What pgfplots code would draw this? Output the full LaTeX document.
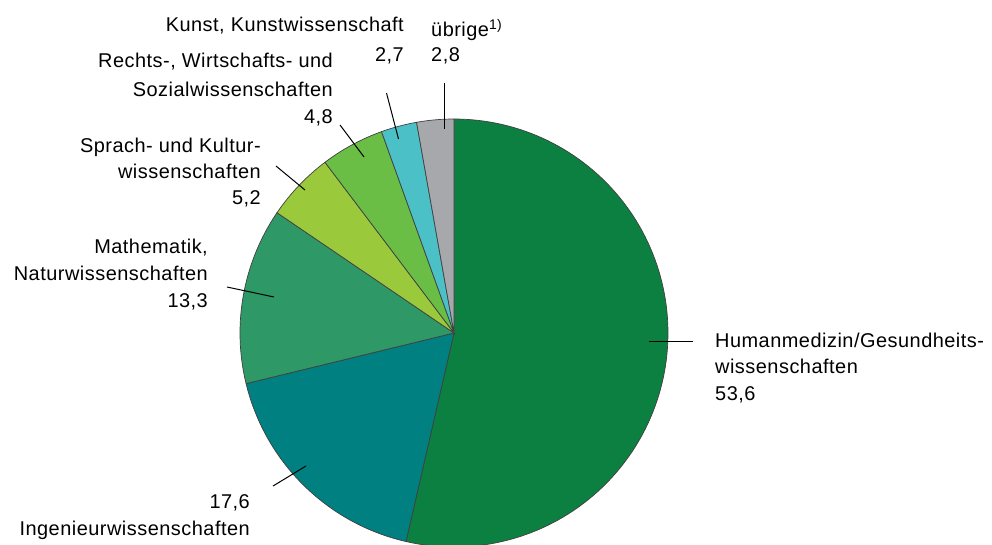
\documentclass[border=0pt]{standalone}
\usepackage{fontspec}
\setmainfont[LetterSpace=2.5]{Liberation Sans}
\usepackage{pgfplots}
\pgfplotsset{compat=1.18}

% shares in percent (clockwise from 12 o'clock)
\def\vHum{53.6}
\def\vIng{17.6}
\def\vMat{13.3}
\def\vSpr{5.2}
\def\vRec{4.8}
\def\vKun{2.7}
\def\vUbr{2.8}

\pgfmathsetmacro\aA{90}
\pgfmathsetmacro\aB{\aA-3.6*\vHum}
\pgfmathsetmacro\aC{\aB-3.6*\vIng}
\pgfmathsetmacro\aD{\aC-3.6*\vMat}
\pgfmathsetmacro\aE{\aD-3.6*\vSpr}
\pgfmathsetmacro\aF{\aE-3.6*\vRec}
\pgfmathsetmacro\aG{\aF-3.6*\vKun}
\pgfmathsetmacro\aH{\aG-3.6*\vUbr}

\definecolor{cHum}{HTML}{0C8040}
\definecolor{cIng}{HTML}{008080}
\definecolor{cMat}{HTML}{2E9966}
\definecolor{cSpr}{HTML}{9BC93C}
\definecolor{cRec}{HTML}{6ABD45}
\definecolor{cKun}{HTML}{4BC0C6}
\definecolor{cUbr}{HTML}{A6A8AB}

\newcommand\lbl{\fontsize{20}{24}\selectfont}

\begin{document}
\begin{tikzpicture}
\useasboundingbox (0,0) rectangle (992bp,545bp);
\begin{axis}[
  at={(0,0)}, anchor=south west,
  scale only axis, width=992bp, height=545bp,
  xmin=0, xmax=992, ymin=0, ymax=545, y dir=reverse,
  hide axis, clip=true,
  slice/.style={draw=black!75, line width=0.7bp, samples=120},
  leader/.style={black, line width=1bp, mark=none},
]
\addplot[slice, fill=cHum, domain=\aB:\aA] ({454+214*cos(x)},{333-214*sin(x)}) -- (axis cs:454,333) -- cycle;
\addplot[slice, fill=cIng, domain=\aC:\aB] ({454+214*cos(x)},{333-214*sin(x)}) -- (axis cs:454,333) -- cycle;
\addplot[slice, fill=cMat, domain=\aD:\aC] ({454+214*cos(x)},{333-214*sin(x)}) -- (axis cs:454,333) -- cycle;
\addplot[slice, fill=cSpr, domain=\aE:\aD] ({454+214*cos(x)},{333-214*sin(x)}) -- (axis cs:454,333) -- cycle;
\addplot[slice, fill=cRec, domain=\aF:\aE] ({454+214*cos(x)},{333-214*sin(x)}) -- (axis cs:454,333) -- cycle;
\addplot[slice, fill=cKun, domain=\aG:\aF] ({454+214*cos(x)},{333-214*sin(x)}) -- (axis cs:454,333) -- cycle;
\addplot[slice, fill=cUbr, domain=\aH:\aG] ({454+214*cos(x)},{333-214*sin(x)}) -- (axis cs:454,333) -- cycle;

% leader lines
\addplot[leader] coordinates {(649,341) (693,341)};
\addplot[leader] coordinates {(273,486) (306,466)};
\addplot[leader] coordinates {(227,287) (274,297)};
\addplot[leader] coordinates {(276,166) (305,190)};
\addplot[leader] coordinates {(340,125) (364,157)};
\addplot[leader] coordinates {(386.5,93) (398.5,139)};
\addplot[leader] coordinates {(444.5,83) (444.5,129)};

% labels
\node[anchor=base east, inner sep=0] at (axis cs:404,32) {\lbl Kunst, Kunstwissenschaft};
\node[anchor=base east, inner sep=0] at (axis cs:404,62) {\lbl 2,7};
\node[anchor=base west, inner sep=0] at (axis cs:431,37) {\lbl übrige\textsuperscript{1)}};
\node[anchor=base west, inner sep=0] at (axis cs:431,62) {\lbl 2,8};
\node[anchor=base east, inner sep=0] at (axis cs:333,68) {\lbl Rechts-, Wirtschafts- und};
\node[anchor=base east, inner sep=0] at (axis cs:333,96) {\lbl Sozialwissenschaften};
\node[anchor=base east, inner sep=0] at (axis cs:333,123) {\lbl 4,8};
\node[anchor=base east, inner sep=0] at (axis cs:261,152) {\lbl Sprach- und Kultur-};
\node[anchor=base east, inner sep=0] at (axis cs:261,178) {\lbl wissenschaften};
\node[anchor=base east, inner sep=0] at (axis cs:261,204) {\lbl 5,2};
\node[anchor=base east, inner sep=0] at (axis cs:208,253) {\lbl Mathematik,};
\node[anchor=base east, inner sep=0] at (axis cs:208,280) {\lbl Naturwissenschaften};
\node[anchor=base east, inner sep=0] at (axis cs:208,307) {\lbl 13,3};
\node[anchor=base west, inner sep=0] at (axis cs:715,347) {\lbl Humanmedizin/Gesundheits-};
\node[anchor=base west, inner sep=0] at (axis cs:715,373) {\lbl wissenschaften};
\node[anchor=base west, inner sep=0] at (axis cs:715,400) {\lbl 53,6};
\node[anchor=base east, inner sep=0] at (axis cs:250,508) {\lbl 17,6};
\node[anchor=base east, inner sep=0] at (axis cs:250,535) {\lbl Ingenieurwissenschaften};
\end{axis}
\end{tikzpicture}
\end{document}
